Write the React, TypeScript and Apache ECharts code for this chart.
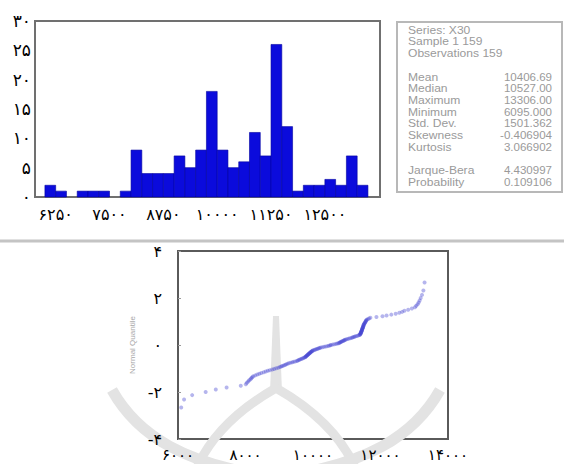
import React, { useEffect, useRef } from 'react';
import * as echarts from 'echarts';

// ---------- data ----------
const binStart = 6000;
const binWidth = 250;
const binCounts = [2, 1, 0, 1, 1, 1, 0, 1, 8, 4, 4, 4, 7, 5, 8, 18, 8, 5, 6, 11, 7, 26, 12, 1, 2, 2, 3, 2, 7, 2];
const histXTicks = [6250, 7500, 8750, 10000, 11250, 12500];

const observations = [
  6095, 6180, 6420, 6820, 7120, 7440, 7860,
  8010, 8040, 8080, 8110, 8150, 8170, 8200, 8230,
  8290, 8350, 8410, 8470,
  8540, 8600, 8660, 8720,
  8790, 8850, 8910, 8970,
  9020, 9060, 9090, 9130, 9170, 9200, 9240,
  9280, 9330, 9380, 9420, 9470,
  9520, 9550, 9580, 9610, 9640, 9670, 9700, 9730,
  9760, 9770, 9790, 9800, 9810, 9830, 9840, 9850, 9870, 9880, 9890, 9910, 9920, 9930, 9950, 9960, 9980, 9990,
  10020, 10050, 10080, 10110, 10140, 10170, 10200, 10230,
  10280, 10330, 10380, 10430, 10470,
  10510, 10527, 10580, 10630, 10680, 10720,
  10760, 10780, 10800, 10820, 10840, 10860, 10890, 10910, 10930, 10950, 10980,
  11020, 11060, 11100, 11140, 11170, 11200, 11230,
  11260, 11300, 11340, 11370, 11393, 11400, 11405, 11410, 11415, 11420, 11425, 11430, 11435, 11440, 11445,
  11450, 11455, 11460, 11465, 11470, 11475, 11480, 11485, 11490, 11494, 11498,
  11505, 11515, 11525, 11535, 11545, 11555, 11565, 11575, 11590, 11620, 11660, 11700,
  11880,
  12060, 12180,
  12320, 12450,
  12560, 12640, 12710,
  12820, 12930,
  13020, 13060, 13100, 13130, 13160, 13190, 13230,
  13270, 13306,
];
const qqXTicks = [6000, 8000, 10000, 12000, 14000];

const statLabels = [
  'Series: X30', 'Sample 1 159', 'Observations 159', '',
  'Mean', 'Median', 'Maximum', 'Minimum', 'Std. Dev.', 'Skewness', 'Kurtosis', '',
  'Jarque-Bera', 'Probability',
];
const statValues = [
  '', '', '', '',
  '10406.69', '10527.00', '13306.00', '6095.000', '1501.362', '-0.406904', '3.066902', '',
  '4.430997', '0.109106',
];

// ---------- helpers ----------
const faDigits = '۰۱۲۳۴۵۶۷۸۹';
const toFa = (v: number | string) => String(v).replace(/[0-9]/g, (d) => faDigits[Number(d)]);

function invNorm(p: number): number {
  const a = [-3.969683028665376e1, 2.209460984245205e2, -2.759285104469687e2, 1.38357751867269e2, -3.066479806614716e1, 2.506628277459239];
  const b = [-5.447609879822406e1, 1.615858368580409e2, -1.556989798598866e2, 6.680131188771972e1, -1.328068155288572e1];
  const c = [-7.784894002430293e-3, -3.223964580411365e-1, -2.400758277161838, -2.549732539343734, 4.374664141464968, 2.938163982698783];
  const d = [7.784695709041462e-3, 3.224671290700398e-1, 2.445134137142996, 3.754408661907416];
  const pl = 0.02425;
  if (p < pl) {
    const q = Math.sqrt(-2 * Math.log(p));
    return (((((c[0] * q + c[1]) * q + c[2]) * q + c[3]) * q + c[4]) * q + c[5]) / ((((d[0] * q + d[1]) * q + d[2]) * q + d[3]) * q + 1);
  }
  if (p <= 1 - pl) {
    const q = p - 0.5;
    const r = q * q;
    return ((((((a[0] * r + a[1]) * r + a[2]) * r + a[3]) * r + a[4]) * r + a[5]) * q) / (((((b[0] * r + b[1]) * r + b[2]) * r + b[3]) * r + b[4]) * r + 1);
  }
  const q = Math.sqrt(-2 * Math.log(1 - p));
  return -(((((c[0] * q + c[1]) * q + c[2]) * q + c[3]) * q + c[4]) * q + c[5]) / ((((d[0] * q + d[1]) * q + d[2]) * q + d[3]) * q + 1);
}

export default function App() {
  const ref = useRef<HTMLDivElement>(null);

  useEffect(() => {
    if (!ref.current) return;
    const chart = echarts.init(ref.current, undefined, { renderer: 'svg' });

    const histData = binCounts.map((c, i) => [binStart + i * binWidth, binStart + (i + 1) * binWidth, c]);
    const n = observations.length;
    const qqData = observations.map((v, i) => [v, invNorm((i + 1 - 0.375) / (n + 0.25))]);

    const labelFont = { fontFamily: 'DejaVu Sans', color: '#000' };
    const statFont = { fontFamily: 'Liberation Sans', fontSize: 10.5, fill: '#9a9a9a' };

    const statTexts: any[] = [];
    statLabels.forEach((t, i) => {
      const y = 30 + i * 11.7;
      if (t) statTexts.push({ type: 'text', x: 408, y, scaleX: 1.15, style: { ...statFont, text: t, verticalAlign: 'middle' } });
      if (statValues[i]) statTexts.push({ type: 'text', x: 552, y, scaleX: 1.1, style: { ...statFont, text: statValues[i], align: 'right', verticalAlign: 'middle' } });
    });

    const wm = '#e3e3e3';
    const watermark: any[] = [
      { type: 'polygon', shape: { points: [[273, 316], [279, 316], [282, 392], [270, 392]] }, style: { fill: wm } },
      { type: 'bezierCurve', shape: { x1: 276, y1: 388, cpx1: 248, cpy1: 404, cpx2: 212, cpy2: 430, x2: 195, y2: 472 }, style: { stroke: wm, lineWidth: 9, fill: 'none' } },
      { type: 'bezierCurve', shape: { x1: 276, y1: 388, cpx1: 304, cpy1: 404, cpx2: 340, cpy2: 430, x2: 357, y2: 472 }, style: { stroke: wm, lineWidth: 9, fill: 'none' } },
      { type: 'bezierCurve', shape: { x1: 112, y1: 390, cpx1: 140, cpy1: 440, cpx2: 190, cpy2: 462, x2: 255, y2: 474 }, style: { stroke: wm, lineWidth: 11, fill: 'none' } },
      { type: 'bezierCurve', shape: { x1: 440, y1: 390, cpx1: 412, cpy1: 440, cpx2: 362, cpy2: 462, x2: 297, y2: 474 }, style: { stroke: wm, lineWidth: 11, fill: 'none' } },
    ];

    chart.setOption({
      animation: false,
      backgroundColor: '#fff',
      graphic: [
        ...watermark,
        { type: 'line', shape: { x1: 0, y1: 241, x2: 564, y2: 241 }, style: { stroke: '#c4c4c4', lineWidth: 3 } },
        { type: 'rect', shape: { x: 397, y: 22, width: 165, height: 170 }, style: { fill: '#fff', stroke: '#b8b8b8', lineWidth: 2 } },
        ...statTexts,
      ],
      grid: [
        { left: 35, top: 21, width: 345, height: 176, show: true, borderColor: '#707070', borderWidth: 2, backgroundColor: 'transparent' },
        { left: 178, top: 251, width: 270, height: 188, show: true, borderColor: '#5a5a5a', borderWidth: 2, backgroundColor: 'transparent' },
      ],
      xAxis: [
        {
          gridIndex: 0, type: 'value', min: 5770, max: 13780,
          axisLine: { show: false }, axisTick: { show: false }, splitLine: { show: false },
          axisLabel: { ...labelFont, fontSize: 16, margin: 9, customValues: histXTicks, formatter: (v: number) => toFa(v) },
        },
        {
          gridIndex: 1, type: 'value', min: 6000, max: 14000, interval: 2000,
          axisLine: { show: false }, axisTick: { show: false }, splitLine: { show: false },
          axisLabel: { ...labelFont, fontSize: 15, margin: 8, customValues: qqXTicks, formatter: (v: number) => toFa(v) },
        },
      ],
      yAxis: [
        {
          gridIndex: 0, type: 'value', min: 0, max: 30, interval: 5,
          axisLine: { show: false }, axisTick: { show: false }, splitLine: { show: false },
          axisLabel: { ...labelFont, fontSize: 17, margin: 4, formatter: (v: number) => toFa(v) },
        },
        {
          gridIndex: 1, type: 'value', min: -4, max: 4, interval: 2,
          name: 'Normal Quantile', nameLocation: 'middle', nameGap: 42,
          nameTextStyle: { fontFamily: 'Liberation Sans', fontSize: 8, color: '#a8a8a8' },
          axisLine: { show: false },
          axisTick: { show: true, inside: true, length: 3, lineStyle: { color: '#999' } },
          splitLine: { show: false },
          axisLabel: { ...labelFont, fontSize: 16, margin: 16, formatter: (v: number) => (v < 0 ? '-' + toFa(-v) : toFa(v)) },
        },
      ],
      series: [
        {
          type: 'custom', xAxisIndex: 0, yAxisIndex: 0,
          encode: { x: [0, 1], y: 2 },
          data: histData,
          renderItem: (params: any, api: any) => {
            const count = api.value(2);
            if (!count) return { type: 'group', children: [] };
            const p0 = api.coord([api.value(0), count]);
            const p1 = api.coord([api.value(1), 0]);
            return {
              type: 'rect',
              shape: { x: p0[0], y: p0[1], width: p1[0] - p0[0], height: p1[1] - p0[1] },
              style: { fill: '#0b0bdc', stroke: '#0000a0', lineWidth: 0.6 },
            };
          },
        },
        {
          type: 'scatter', xAxisIndex: 1, yAxisIndex: 1,
          data: qqData, symbolSize: 4,
          itemStyle: { color: 'rgba(70,70,210,0.5)' },
        },
      ],
    });

    return () => chart.dispose();
  }, []);

  return <div ref={ref} style={{ position: 'fixed', left: 0, top: 0, width: 564, height: 464 }} />;
}
